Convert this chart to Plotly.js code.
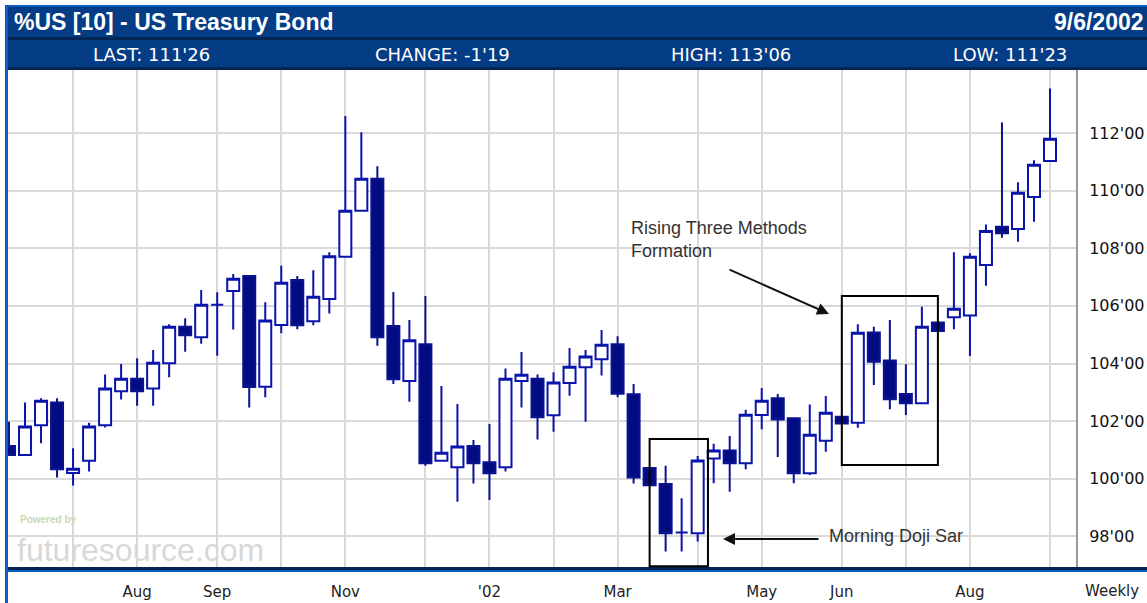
<!DOCTYPE html>
<html>
<head>
<meta charset="utf-8">
<script src="https://cdn.plot.ly/plotly-3.0.1.min.js"></script>
<style>
  html, body { margin: 0; padding: 0; background: #ffffff; }
  #chart { width: 1147px; height: 603px; }
</style>
</head>
<body>
<div id="chart"></div>
<script>
// ---- Data (weekly candles, US Treasury Bond) ----
const weekDates = [
  '2001-06-08','2001-06-15','2001-06-22','2001-06-29','2001-07-06','2001-07-13','2001-07-20','2001-07-27',
  '2001-08-03','2001-08-10','2001-08-17','2001-08-24','2001-08-31','2001-09-07','2001-09-14','2001-09-21',
  '2001-09-28','2001-10-05','2001-10-12','2001-10-19','2001-10-26','2001-11-02','2001-11-09','2001-11-16',
  '2001-11-23','2001-11-30','2001-12-07','2001-12-14','2001-12-21','2001-12-28','2002-01-04','2002-01-11',
  '2002-01-18','2002-01-25','2002-02-01','2002-02-08','2002-02-15','2002-02-22','2002-03-01','2002-03-08',
  '2002-03-15','2002-03-22','2002-03-29','2002-04-05','2002-04-12','2002-04-19','2002-04-26','2002-05-03',
  '2002-05-10','2002-05-17','2002-05-24','2002-05-31','2002-06-07','2002-06-14','2002-06-21','2002-06-28',
  '2002-07-05','2002-07-12','2002-07-19','2002-07-26','2002-08-02','2002-08-09','2002-08-16','2002-08-23',
  '2002-08-30','2002-09-06'
];
const openPrices = [
  101.14,100.82,101.86,102.65,100.20,100.62,101.86,103.04,103.47,103.13,104.01,105.28,104.91,106.04,106.52,107.04,
  103.19,105.34,106.90,105.47,106.24,107.71,109.30,110.41,105.30,103.39,104.67,100.62,100.40,101.14,100.57,100.40,
  103.39,103.47,102.20,103.32,103.87,104.15,104.67,102.93,100.37,99.82,98.13,98.11,100.70,100.98,100.54,102.21,
  102.79,102.10,100.19,101.32,102.15,101.94,105.08,104.10,102.94,102.62,105.42,105.61,105.67,107.42,108.75,108.67,
  109.78,111.03
];
const highPrices = [
  101.98,102.65,102.79,102.79,101.06,101.94,103.62,103.98,104.18,104.47,105.36,105.57,106.55,106.47,107.11,107.04,
  106.13,107.39,107.04,107.24,107.86,112.59,112.03,110.85,106.48,105.51,106.34,103.22,102.59,101.34,101.90,103.83,
  104.40,103.62,103.70,104.54,104.47,105.16,104.95,103.29,100.37,100.45,99.32,100.79,101.21,101.48,102.39,103.15,
  102.94,102.10,102.58,102.87,102.15,105.36,105.28,105.51,103.97,105.97,105.42,107.86,107.83,108.83,112.37,110.29,
  111.06,113.55
];
const lowPrices = [
  100.82,100.82,101.23,100.04,99.76,100.25,101.78,102.75,102.53,102.53,103.52,104.41,104.69,104.27,105.18,102.47,
  102.83,105.05,105.19,105.33,105.74,107.71,109.30,104.62,103.29,102.67,100.45,100.62,99.20,99.83,99.26,100.25,
  102.47,101.36,101.63,102.88,101.98,103.58,102.83,99.83,99.77,97.47,97.47,97.82,99.84,99.55,100.33,101.72,
  100.75,99.84,100.13,100.94,101.92,101.77,103.25,102.41,102.21,102.62,105.13,105.19,104.26,106.70,108.37,108.23,
  108.92,111.03
];
const closePrices = [
  100.82,101.81,102.71,100.33,100.35,101.81,103.13,103.47,103.04,104.03,105.28,104.98,106.04,106.04,106.94,103.18,
  105.49,106.80,105.33,106.32,107.72,109.30,110.41,104.91,103.45,104.81,100.54,100.90,101.12,100.54,100.19,103.47,
  103.61,102.13,103.34,103.89,104.24,104.65,102.95,100.04,99.77,98.11,98.13,100.63,100.98,100.54,102.22,102.71,
  102.06,100.19,101.53,102.29,101.92,105.07,104.06,102.76,102.62,105.28,105.13,105.90,107.71,108.60,108.52,109.93,
  110.90,111.80
];

// Month gridlines (first weekly bar of each month) and their labels
const monthTickDates = ['2001-07-06','2001-08-03','2001-09-07','2001-10-05','2001-11-02','2001-12-07','2002-01-04',
  '2002-02-01','2002-03-01','2002-04-05','2002-05-03','2002-06-07','2002-07-05','2002-08-02','2002-09-06'];
const monthTickLabels = ['', 'Aug', 'Sep', '', 'Nov', '', "'02", '', 'Mar', '', 'May', 'Jun', '', 'Aug', ''];

const priceTicks = [98, 100, 102, 104, 106, 108, 110, 112];
const priceTickLabels = ["98'00", "100'00", "102'00", "104'00", "106'00", "108'00", "110'00", "112'00"];

const headerTitle = '%US [10] - US Treasury Bond';
const headerDate = '9/6/2002';
const headerStats = ["LAST: 111'26", "CHANGE: -1'19", "HIGH: 113'06", "LOW: 111'23"];

// ---- Layout helpers (pixel -> paper, for decoration only) ----
const PL = 8, PR = 1076, PT = 70, PB = 568;
const px = v => (v - PL) / (PR - PL);
const py = v => (PB - v) / (PB - PT);

const trace = {
  type: 'candlestick',
  x: weekDates,
  open: openPrices, high: highPrices, low: lowPrices, close: closePrices,
  whiskerwidth: 0,
  line: { width: 2 },
  increasing: { line: { color: '#0a14aa', width: 2 }, fillcolor: '#ffffff' },
  decreasing: { line: { color: '#0a1290', width: 2 }, fillcolor: '#020c80' },
  hoverinfo: 'skip'
};

const navy = '#043c86', darkNavy = '#022553', edgeBlue = '#0b5cc0';
const rect = (x0, x1, y0, y1, color) => ({
  type: 'rect', xref: 'paper', yref: 'paper', x0: px(x0), x1: px(x1), y0: py(y1), y1: py(y0),
  fillcolor: color, line: { width: 0 }, layer: 'above'
});

const shapes = [
  rect(5, 1160, 5, 70, edgeBlue),
  rect(8, 1160, 7, 37, navy),
  rect(8, 1160, 37, 40, darkNavy),
  rect(8, 1160, 40, 67, navy),
  rect(8, 1160, 67, 70, darkNavy),
  rect(5, 8, 70, 610, edgeBlue),
  rect(8, 1160, 567, 570, darkNavy),
  rect(8, 1160, 570, 572, edgeBlue),
  // Rising three methods box
  { type: 'rect', xref: 'x', yref: 'y', x0: '2002-06-07', x1: '2002-07-19', y0: 100.48, y1: 106.34,
    line: { color: '#000000', width: 2 }, fillcolor: 'rgba(0,0,0,0)', layer: 'above' },
  // Morning doji star box
  { type: 'rect', xref: 'x', yref: 'y', x0: '2002-03-15', x1: '2002-04-09 12:00', y0: 96.96, y1: 101.38,
    line: { color: '#000000', width: 2 }, fillcolor: 'rgba(0,0,0,0)', layer: 'above' }
];

const uiFont = 'DejaVu Sans, Verdana, sans-serif';
const annFont = 'Liberation Sans, Arial, sans-serif';
const paperAnn = (x, y, text, font, xanchor) => ({
  xref: 'paper', yref: 'paper', x: px(x), y: py(y), text: text, showarrow: false,
  xanchor: xanchor || 'left', yanchor: 'middle', font: font
});

const statCenters = [151, 442, 731, 1010];
const annotations = [
  paperAnn(12, 22, headerTitle, { family: annFont, size: 23, color: '#ffffff', weight: 'bold' }),
  paperAnn(1052, 22, headerDate, { family: annFont, size: 23, color: '#ffffff', weight: 'bold' }),
  ...headerStats.map((t, k) => paperAnn(statCenters[k], 54, t, { family: uiFont, size: 18, color: '#ffffff' }, 'center')),
  paperAnn(1083, 591, 'Weekly', { family: uiFont, size: 15, color: '#222222' }),
  paperAnn(18, 519, 'Powered by', { family: annFont, size: 10, color: '#c9dab4', weight: 'bold' }),
  paperAnn(15, 550, 'futuresource.com', { family: annFont, size: 32, color: '#d8d8d8' }),
  { xref: 'x', yref: 'y', x: '2002-03-06', y: 108.29, text: 'Rising Three Methods<br>Formation',
    showarrow: false, xanchor: 'left', yanchor: 'middle', align: 'left',
    font: { family: annFont, size: 18, color: '#333333' } },
  { xref: 'x', yref: 'y', x: '2002-06-01 10:00', y: 105.72, text: '', showarrow: true,
    ax: -101, ay: -45, arrowhead: 2, arrowsize: 1.2, arrowwidth: 2, arrowcolor: '#111111' },
  { xref: 'x', yref: 'y', x: '2002-05-31 12:00', y: 98.01, text: 'Morning Doji Sar',
    showarrow: false, xanchor: 'left', yanchor: 'middle',
    font: { family: annFont, size: 18, color: '#333333' } },
  { xref: 'x', yref: 'y', x: '2002-04-16 01:30', y: 97.91, text: '', showarrow: true,
    ax: 97, ay: 0, arrowhead: 2, arrowsize: 1.2, arrowwidth: 2, arrowcolor: '#111111' }
];

const layout = {
  width: 1147, height: 603,
  margin: { l: PL, r: 1147 - PR, t: PT, b: 603 - PB, pad: 0 },
  paper_bgcolor: '#ffffff', plot_bgcolor: '#ffffff',
  showlegend: false,
  hovermode: false,
  boxgap: 0.25, boxgroupgap: 0,
  xaxis: {
    type: 'date',
    range: ['2001-06-07 13:30', '2002-09-17 08:40'],
    tickmode: 'array', tickvals: monthTickDates, ticktext: monthTickLabels,
    showgrid: true, gridcolor: '#d9d9d9', gridwidth: 2,
    zeroline: false, showline: false, ticks: '',
    ticklabelstandoff: 13,
    tickfont: { family: uiFont, size: 15, color: '#222222' },
    rangeslider: { visible: false },
    fixedrange: true
  },
  yaxis: {
    side: 'right',
    range: [96.90, 114.19],
    tickmode: 'array', tickvals: priceTicks, ticktext: priceTickLabels,
    showgrid: true, gridcolor: '#d9d9d9', gridwidth: 2,
    zeroline: false, showline: true, linecolor: '#999999', linewidth: 2,
    ticks: '', ticklabelstandoff: 8,
    tickfont: { family: uiFont, size: 16, color: '#111111' },
    fixedrange: true
  },
  shapes: shapes,
  annotations: annotations
};

Plotly.newPlot('chart', [trace], layout, { displayModeBar: false, staticPlot: true });
</script>
</body>
</html>
